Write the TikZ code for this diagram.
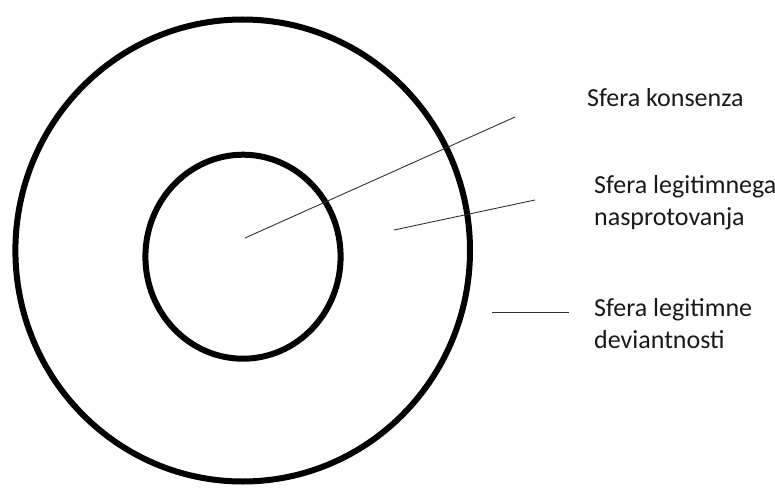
\documentclass[tikz,border=0pt]{standalone}
\usepackage{fontspec}
\setmainfont{Carlito}
\usepackage{tikz}
\usetikzlibrary{positioning, calc}

\begin{document}
\begin{tikzpicture}[
  x=1pt, y=-1pt,
  ring/.style = {draw=black, line width=6pt},
  lead/.style = {line width=0.9pt, black!80},
  lbl/.style  = {font=\fontsize{26}{32}\selectfont, text=black!90,
                 anchor=base west, align=left, inner sep=0pt},
]
  \useasboundingbox (0,0) rectangle (775,489);

  % the two spheres
  \draw[ring] (242.7,250.5) ellipse [x radius=227.3, y radius=231];
  \draw[ring] (243,256.7) ellipse [x radius=97.6, y radius=102];

  % labels (base anchor sits on the last line)
  \node[lbl] (konsenz)  at (587,107) {Sfera konsenza};
  \node[lbl] (nasprot)  at (594,225) {Sfera legitimnega\\nasprotovanja};
  \node[lbl] (deviant)  at (594,348) {Sfera legitimne\\deviantnosti};

  % leader lines
  \coordinate (konsenz-a) at (245,238);
  \coordinate (konsenz-b) at (515,117);
  \coordinate (nasprot-a) at (394,230);
  \coordinate (nasprot-b) at (535,200);
  \coordinate (deviant-a) at (492,312);
  \coordinate (deviant-b) at (569,312);

  \draw[lead] (konsenz-a) -- (konsenz-b);
  \draw[lead] (nasprot-a) -- (nasprot-b);
  \draw[lead] (deviant-a) -- (deviant-b);
\end{tikzpicture}
\end{document}
